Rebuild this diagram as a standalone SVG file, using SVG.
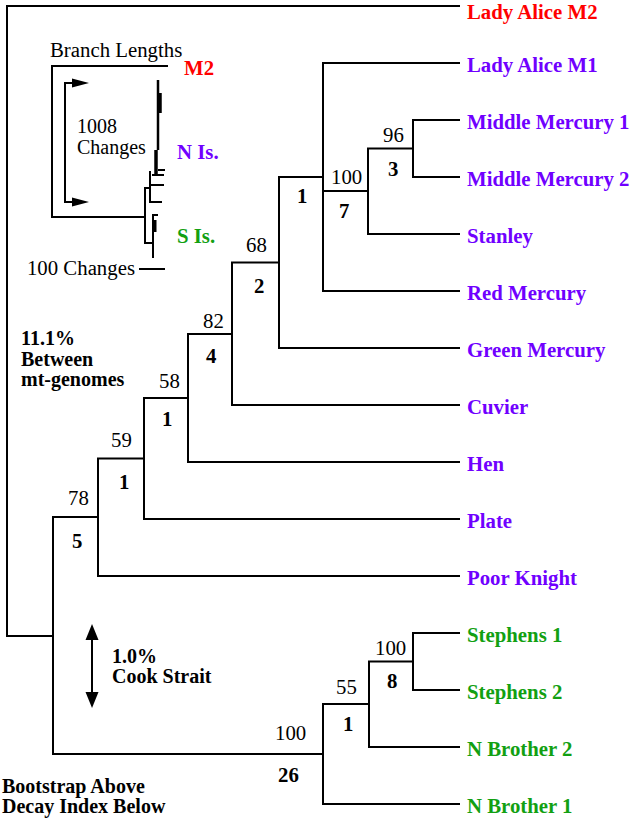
<svg xmlns="http://www.w3.org/2000/svg" width="632" height="819" viewBox="0 0 632 819">
<style>
text{font-family:"Liberation Serif","Times New Roman",serif;font-size:20.8px;fill:#000}
.ml{font-size:20px}
.b{font-weight:bold}
.pu{fill:#7000ff;font-weight:bold}
.rd{fill:#ff0000;font-weight:bold}
.gr{fill:#12a012;font-weight:bold}
.ln{fill:none;stroke:#000;stroke-width:2;stroke-linecap:square}
</style>
<rect width="632" height="819" fill="#fff"/>
<g id="connectors" class="ln">
<path d="M459,6 H7 V636 H53"/>
<path d="M98,517 H53 V754 H323"/>
<path d="M144,458.5 H98 V576 H459"/>
<path d="M188,398 H144 V519 H459"/>
<path d="M232,334 H188 V462 H459"/>
<path d="M279,262.5 H232 V405 H459"/>
<path d="M323,177 H279 V348 H459"/>
<path d="M459,63 H323 V291 H459 M323,191 H368"/>
<path d="M413,148.5 H368 V234 H459"/>
<path d="M459,120 H413 V177 H459"/>
<path d="M369,704 H323 V804 H459"/>
<path d="M413,661.5 H369 V747 H459"/>
<path d="M459,633 H413 V690 H459"/>
</g>
<g id="inset">
<g class="ln">
<path d="M167,66 H52 V217 H145"/>
<path d="M72,83 H65 V202 H72"/>
<path d="M145,188 V243 H153 M145,188 H150 M150,172 V202 H161 M150,185 H163 M153,175 H163"/>
<path d="M153,215 V257 M153,215 H157"/>
<path d="M140,269 H164"/>
</g>
<path d="M158,80 V150" stroke="#000" stroke-width="2.5" fill="none"/>
<path d="M160,93 V113" stroke="#000" stroke-width="3.5" fill="none"/>
<path d="M156,150 V176" stroke="#000" stroke-width="3.5" fill="none"/>
<path d="M155,220 V232" stroke="#000" stroke-width="3" fill="none"/>
<path d="M158,170 H165" stroke="#000" stroke-width="2" fill="none"/>
<polygon points="72,78.5 89,83 72,87.5" fill="#000"/>
<polygon points="72,197.5 89,202 72,206.5" fill="#000"/>
<text x="50" y="57">Branch Lengths</text>
<text x="184" y="75" class="rd">M2</text>
<text x="77" y="133" class="ml">1008</text>
<text x="77" y="154" class="ml">Changes</text>
<text x="177" y="159" class="pu">N Is.</text>
<text x="177" y="243" class="gr">S Is.</text>
<text x="135" y="275" text-anchor="end">100 Changes</text>
</g>
<g id="legend">
<text x="21" y="345" class="b ml">11.1%</text>
<text x="21" y="366" class="b ml">Between</text>
<text x="21" y="386" class="b ml">mt-genomes</text>
<path d="M92,638 V694" stroke="#000" stroke-width="2" fill="none"/>
<polygon points="92,624 85.5,640 98.5,640" fill="#000"/>
<polygon points="92,708 85.5,692 98.5,692" fill="#000"/>
<text x="112" y="663" class="b ml">1.0%</text>
<text x="112" y="683" class="b ml">Cook Strait</text>
<text x="2" y="793" class="b ml">Bootstrap Above</text>
<text x="2" y="813" class="b ml">Decay Index Below</text>
</g>
<g id="taxa">
<g id="t-lam2"><text x="467" y="19" class="rd">Lady Alice M2</text></g>
<g id="t-lam1"><text x="467" y="72" class="pu">Lady Alice M1</text></g>
<g id="t-mm1"><text x="467" y="129" class="pu">Middle Mercury 1</text></g>
<g id="t-mm2"><text x="467" y="186" class="pu">Middle Mercury 2</text></g>
<g id="t-stanley"><text x="467" y="243" class="pu">Stanley</text></g>
<g id="t-red"><text x="467" y="300" class="pu">Red Mercury</text></g>
<g id="t-green"><text x="467" y="357" class="pu">Green Mercury</text></g>
<g id="t-cuvier"><text x="467" y="414" class="pu">Cuvier</text></g>
<g id="t-hen"><text x="467" y="471" class="pu">Hen</text></g>
<g id="t-plate"><text x="467" y="528" class="pu">Plate</text></g>
<g id="t-poor"><text x="467" y="585" class="pu">Poor Knight</text></g>
<g id="t-s1"><text x="467" y="642" class="gr">Stephens 1</text></g>
<g id="t-s2"><text x="467" y="699" class="gr">Stephens 2</text></g>
<g id="t-nb2"><text x="467" y="756" class="gr">N Brother 2</text></g>
<g id="t-nb1"><text x="467" y="813" class="gr">N Brother 1</text></g>
</g>
<g id="support">
<g id="n96"><text x="383" y="142">96</text><text x="388" y="176" class="b">3</text></g>
<g id="n100a"><text x="331" y="184">100</text><text x="339" y="218" class="b">7</text></g>
<g id="n1a"><text x="297" y="203" class="b">1</text></g>
<g id="n68"><text x="246" y="252">68</text><text x="254" y="293" class="b">2</text></g>
<g id="n82"><text x="203" y="328">82</text><text x="206" y="363" class="b">4</text></g>
<g id="n58"><text x="159" y="388">58</text><text x="162" y="426" class="b">1</text></g>
<g id="n59"><text x="111" y="447">59</text><text x="119" y="489" class="b">1</text></g>
<g id="n78"><text x="68" y="505">78</text><text x="72" y="548" class="b">5</text></g>
<g id="n100b"><text x="275" y="740">100</text><text x="278" y="782" class="b">26</text></g>
<g id="n55"><text x="336" y="694">55</text><text x="343" y="731" class="b">1</text></g>
<g id="n100c"><text x="375" y="655">100</text><text x="387" y="688" class="b">8</text></g>
</g>
</svg>
